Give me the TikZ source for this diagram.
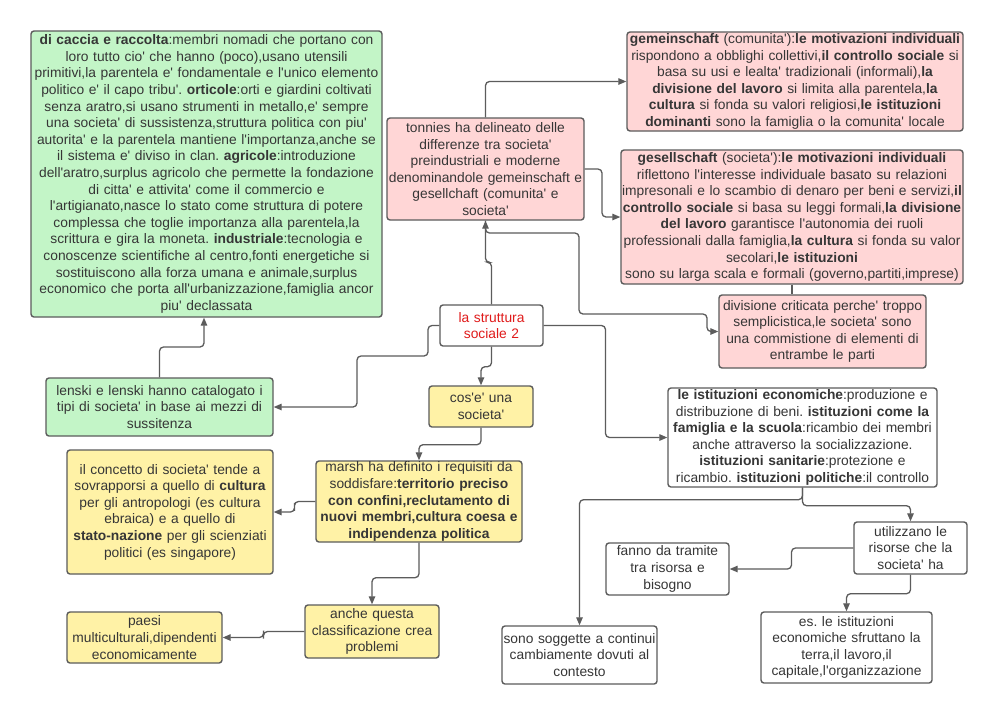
\documentclass[tikz,border=0pt]{standalone}
\usepackage{fontspec}
\newfontfamily\lsans{Liberation Sans}
\usetikzlibrary{arrows.meta,calc}
\definecolor{bord}{HTML}{5C5C5C}
\definecolor{txt}{HTML}{363636}
\definecolor{gfill}{HTML}{C3F5C7}
\definecolor{pfill}{HTML}{FFD6D6}
\definecolor{yfill}{HTML}{FFF2A6}
\definecolor{redtxt}{HTML}{E01B1B}
\frenchspacing
\tikzset{
  box/.style={draw=bord, line width=1.4pt, rounded corners=3pt, inner xsep=0pt, inner ysep=0pt,
    align=center, text=txt, font=\lsans\frenchspacing\fontsize{13.8}{16.6}\selectfont},
  gbox/.style={box, fill=gfill},
  pbox/.style={box, fill=pfill},
  ybox/.style={box, fill=yfill},
  wbox/.style={box, fill=white},
  conn/.style={draw=bord, line width=1.3pt, rounded corners=4pt, -{Triangle[length=8pt,width=6.5pt]}},
  plainconn/.style={draw=bord, line width=1.3pt},
}
\newcommand\mkbox[7]{%
  \pgfmathsetmacro\bxw{#5-#3}\pgfmathsetmacro\bxh{#6-#4}%
  \pgfmathsetmacro\bxcx{(#3+#5)/2}\pgfmathsetmacro\bxcy{(#4+#6)/2}%
  \node[#2, text width=\bxw pt, minimum height=\bxh pt] (#1) at (\bxcx,\bxcy) {#7};}
\begin{document}
\begin{tikzpicture}[x=1pt,y=-1pt]
\fill[white] (0,0) rectangle (1000,716);
\useasboundingbox (0,0) rectangle (1000,716);

\mkbox{G}{gbox}{31}{31}{382}{317}{\textbf{di caccia e raccolta}:membri nomadi che portano con\\
loro tutto cio' che hanno (poco),usano utensili\\
primitivi,la parentela e' fondamentale e l'unico elemento\\
politico e' il capo tribu'. \textbf{orticole}:orti e giardini coltivati\\
senza aratro,si usano strumenti in metallo,e' sempre\\
una societa' di sussistenza,struttura politica con piu'\\
autorita' e la parentela mantiene l'importanza,anche se\\
il sistema e' diviso in clan. \textbf{agricole}:introduzione\\
dell'aratro,surplus agricolo che permette la fondazione\\
di citta' e attivita' come il commercio e\\
l'artigianato,nasce lo stato come struttura di potere\\
complessa che toglie importanza alla parentela,la\\
scrittura e gira la moneta. \textbf{industriale}:tecnologia e\\
conoscenze scientifiche al centro,fonti energetiche si\\
sostituiscono alla forza umana e animale,surplus\\
economico che porta all'urbanizzazione,famiglia ancor\\
piu' declassata}

\mkbox{L}{gbox}{46}{378}{273}{436}{lenski e lenski hanno catalogato i\\tipi di societa' in base ai mezzi di\\sussitenza}

\mkbox{S}{wbox,text=redtxt}{440}{305}{543}{346}{la struttura\\sociale 2}

\mkbox{T}{pbox}{387}{118}{584}{220}{tonnies ha delineato delle\\differenze tra societa'\\preindustriali e moderne\\denominandole gemeinschaft e\\gesellchaft (comunita' e\\societa'}

\mkbox{Gm}{pbox}{627}{32}{963}{131}{\textbf{gemeinschaft} (comunita'):\textbf{le motivazioni individuali}\\
rispondono a obblighi collettivi,\textbf{il controllo sociale} si\\
basa su usi e lealta' tradizionali (informali),\textbf{la}\\
\textbf{divisione del lavoro} si limita alla parentela,\textbf{la}\\
\textbf{cultura} si fonda su valori religiosi,\textbf{le istituzioni}\\
\textbf{dominanti} sono la famiglia o la comunita' locale}

\mkbox{Gs}{pbox}{621}{150}{963}{284}{\textbf{gesellschaft} (societa'):\textbf{le motivazioni individuali}\\
riflettono l'interesse individuale basato su relazioni\\
impresonali e lo scambio di denaro per beni e servizi,\textbf{il}\\
\textbf{controllo sociale} si basa su leggi formali,\textbf{la divisione}\\
\textbf{del lavoro} garantisce l'autonomia dei ruoli\\
professionali dalla famiglia,\textbf{la cultura} si fonda su valor\\
secolari,\textbf{le istituzioni}\\
sono su larga scala e formali (governo,partiti,imprese)}

\mkbox{D}{pbox}{719}{295}{926}{368}{divisione criticata perche' troppo\\semplicistica,le societa' sono\\una commistione di elementi di\\entrambe le parti}

\mkbox{C}{ybox}{429}{386}{533}{427}{cos'e' una\\societa'}

\mkbox{M}{ybox}{316}{461}{522}{542}{marsh ha definito i requisiti da\\soddisfare:\textbf{territorio preciso}\\\textbf{con confini,reclutamento di}\\\textbf{nuovi membri,cultura coesa e}\\\textbf{indipendenza politica}}

\mkbox{K}{ybox}{67}{450}{273}{574}{il concetto di societa' tende a\\sovrapporsi a quello di \textbf{cultura}\\per gli antropologi (es cultura\\ebraica) e a quello di\\\textbf{stato-nazione} per gli scienziati\\politici (es singapore)}

\mkbox{A}{ybox}{305}{605}{439}{658}{anche questa\\classificazione crea\\problemi}

\mkbox{P}{ybox}{67}{612}{222}{663}{paesi\\multiculturali,dipendenti\\economicamente}

\mkbox{I}{wbox}{668}{388}{937}{487}{\textbf{le istituzioni economiche}:produzione e\\distribuzione di beni. \textbf{istituzioni come la}\\\textbf{famiglia e la scuola}:ricambio dei membri\\anche attraverso la socializzazione.\\\textbf{istituzioni sanitarie}:protezione e\\ricambio. \textbf{istituzioni politiche}:il controllo}

\mkbox{U}{wbox}{854}{522}{967}{574}{utilizzano le\\risorse che la\\societa' ha}

\mkbox{F}{wbox}{606}{543}{729}{595}{fanno da tramite\\tra risorsa e\\bisogno}

\mkbox{SS}{wbox}{502}{626}{657}{684}{sono soggette a continui\\cambiamente dovuti al\\contesto}

\mkbox{E}{wbox}{761}{612}{932}{683}{es. le istituzioni\\economiche sfruttano la\\terra,il lavoro,il\\capitale,l'organizzazione}

% junction coordinates
\coordinate (gL) at (204,347);
\coordinate (c1) at (428,356);
\coordinate (c2) at (357,356);
\coordinate (d1) at (579,233);
\coordinate (d2) at (707,314);
\coordinate (e1) at (602,169);
\coordinate (f1) at (792,0);

% connectors
\draw[conn] (L.north) |- (gL) -- (gL |- G.south);
\draw[conn] (S.west) -| (c1) -- (c2) |- (L.east);
\draw[conn] (S.north) -- ++(0,-42) -| (T.south);
\draw[conn] (T.south) |- (d1) |- (d2) |- (D.west);
\draw[conn] (T.north) |- (Gm.west);
\draw[conn] (T.east) -- (e1) |- (Gs.west);
\draw[plainconn] (f1 |- Gs.south) -- (f1 |- D.north);
\draw[conn] (S.south) -- ++(0,20) -| (C.north);
\draw[conn] (C.south) -- ++(0,17) -| (M.north);
\draw[conn] (M.west) -| ($(M.west)!0.5!(K.east)$) |- (K.east);
\draw[conn] (M.south) -- ++(0,35) -| (A.north);
\draw[conn] (A.west) -| ($(A.west)!0.5!(P.east)$) |- (P.east);
\draw[conn] (S.east) -| ($(S.east)!0.5!(I.west)$) |- (I.west);
\draw[conn] (I.south) -- ++(0,18) -| (U.north);
\draw[conn] (I.south) -- ++(0,12) -| (SS.north);
\draw[conn] (U.west) -| ($(U.west)!0.5!(F.east)$) |- (F.east);
\draw[conn] (U.south) -- ++(0,19) -| (E.north);
\end{tikzpicture}
\end{document}
